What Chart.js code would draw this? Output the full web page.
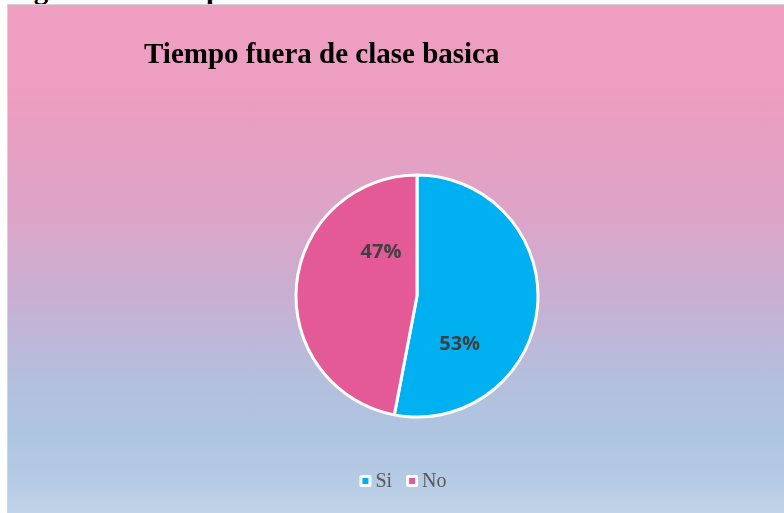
<!DOCTYPE html>
<html>
<head>
<meta charset="utf-8">
<script src="https://cdn.jsdelivr.net/npm/chart.js@4.4.0/dist/chart.umd.min.js"></script>
<style>
  html, body { margin: 0; padding: 0; width: 784px; height: 513px; overflow: hidden; background: #ffffff; }
  #caption { position: absolute; left: 8px; top: -27px; font: bold 29px "Liberation Serif", "Times New Roman", serif; color: #000; white-space: nowrap; line-height: normal; }
  #frame { position: absolute; left: 7px; top: 4px; width: 790px; height: 520px; border: 1px solid #d4d4d4;
    background: linear-gradient(to bottom, #EFA0C2 0%, #EC9DC0 18%, #DDA4C6 40%, #C6B1D4 58%, #B4BFDD 72%, #AEC5E1 82%, #B6CBE4 92%, #C6D7EA 100%); }
  #title { position: absolute; left: 136px; top: 32px; font: bold 29px "Liberation Serif", "Times New Roman", serif; color: #000; white-space: nowrap; }
  #wrap { position: absolute; left: 1px; top: 1px; width: 776px; height: 508px; }
</style>
</head>
<body>
<div id="caption">Figura 13. Tiempo fuera de clase basica</div>
<div id="frame">
  <div id="wrap"><canvas id="c"></canvas></div>
  <div id="title">Tiempo fuera de clase basica</div>
</div>
<script>
const categories = ["Si", "No"];
const values = [53, 47];
const percentLabels = ["53%", "47%"];
const sliceColors = ["#00B0F0", "#E35A96"];

const labelPlugin = {
  id: 'sliceLabels',
  afterDatasetsDraw(chart, args, opts) {
    const ctx = chart.ctx;
    const meta = chart.getDatasetMeta(0);
    ctx.save();
    ctx.font = 'bold 20px "Open Sans", sans-serif';
    ctx.fillStyle = '#404040';
    ctx.textAlign = 'center';
    ctx.textBaseline = 'middle';
    meta.data.forEach((arc, i) => {
      const p = arc.getProps(['x', 'y', 'startAngle', 'endAngle', 'outerRadius'], true);
      const anchor = opts.anchors[i];
      const a = p.startAngle + anchor.along * (p.endAngle - p.startAngle);
      const r = p.outerRadius * anchor.radial;
      ctx.fillText(percentLabels[i], p.x + Math.cos(a) * r, p.y + Math.sin(a) * r);
    });
    ctx.restore();
  }
};

const legendPlugin = {
  id: 'officeLegend',
  afterDraw(chart) {
    const ctx = chart.ctx;
    const ds = chart.data.datasets[0];
    const box = 12, inner = 6, textGap = 4, itemGap = 14;
    ctx.save();
    ctx.font = '20px "Liberation Serif", "Times New Roman", serif';
    const widths = chart.data.labels.map(l => box + textGap + ctx.measureText(l).width);
    const total = widths.reduce((s, w) => s + w, 0) + itemGap * (widths.length - 1);
    let x = chart.width / 2 + 6 - total / 2;
    const cy = 475;
    chart.data.labels.forEach((l, i) => {
      ctx.fillStyle = '#ffffff';
      ctx.beginPath();
      if (ctx.roundRect) ctx.roundRect(x, cy - box / 2, box, box, 2); else ctx.rect(x, cy - box / 2, box, box);
      ctx.fill();
      ctx.fillStyle = ds.backgroundColor[i];
      ctx.fillRect(x + (box - inner) / 2, cy - inner / 2, inner, inner);
      ctx.fillStyle = '#595959';
      ctx.textAlign = 'left';
      ctx.textBaseline = 'middle';
      ctx.fillText(l, x + box + textGap, cy + 1);
      x += widths[i] + itemGap;
    });
    ctx.restore();
  }
};

new Chart(document.getElementById('c'), {
  type: 'pie',
  data: {
    labels: categories,
    datasets: [{
      data: values,
      backgroundColor: sliceColors,
      borderColor: '#ffffff',
      borderWidth: 3,
      hoverOffset: 0,
      radius: 121
    }]
  },
  options: {
    responsive: true,
    maintainAspectRatio: false,
    animation: false,
    layout: { padding: { left: 40, right: 0, top: 150, bottom: 78 } },
    plugins: {
      title: { display: false },
      tooltip: { enabled: false },
      legend: { display: false },
      sliceLabels: { anchors: [ { along: 0.725, radial: 0.53 }, { along: 0.768, radial: 0.47 } ] }
    }
  },
  plugins: [labelPlugin, legendPlugin]
});
</script>
</body>
</html>
